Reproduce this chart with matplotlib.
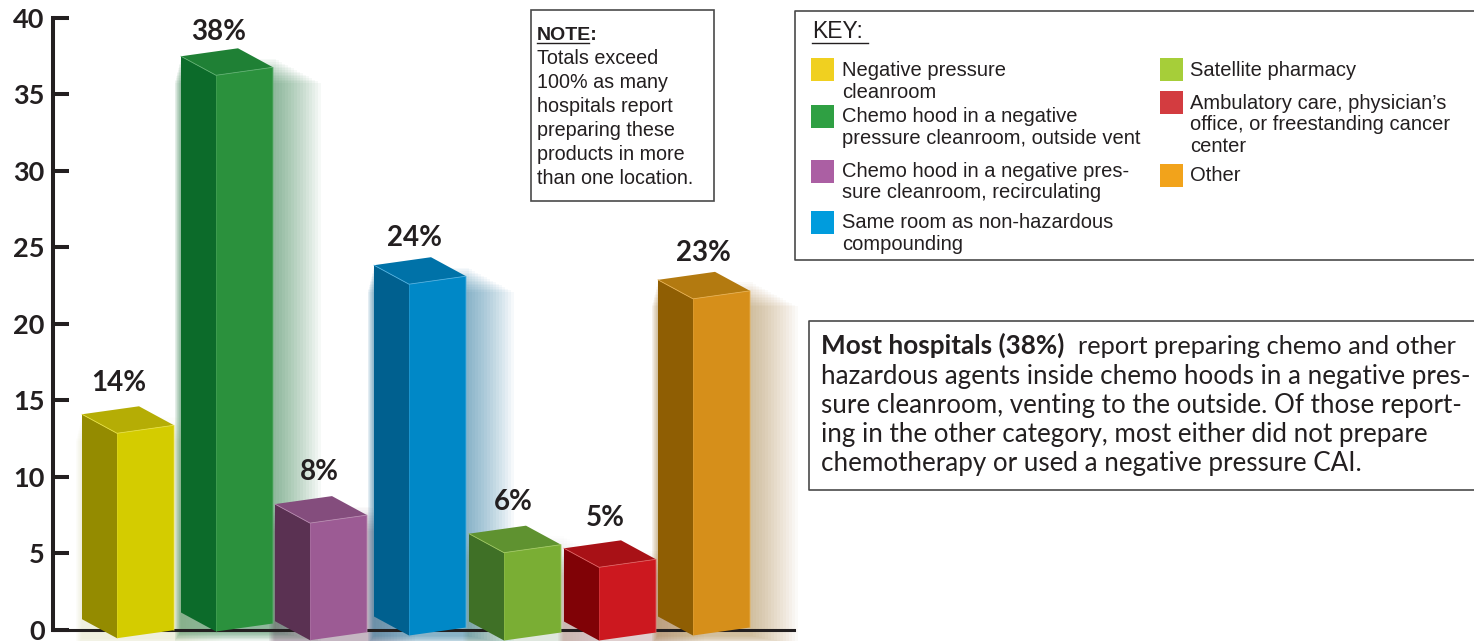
import matplotlib
matplotlib.use("Agg")
import matplotlib.pyplot as plt
from matplotlib.patches import Polygon, Rectangle

# chart data
categories = ["Negative pressure cleanroom", "Chemo hood, outside vent", "Chemo hood, recirculating",
              "Same room as non-hazardous", "Satellite pharmacy", "Ambulatory care", "Other"]
values = [14, 38, 8, 24, 6, 5, 23]
y_ticks = [0, 5, 10, 15, 20, 25, 30, 35, 40]

# bar styling
front_colors = ["#d4cc00", "#2b913d", "#9c5b94", "#0088c7", "#7aae34", "#cc181f", "#d68f1a"]
side_colors = ["#948b00", "#0c6b2a", "#5a3152", "#00608f", "#3f7026", "#800206", "#8f5e03"]
top_colors = ["#b5ad05", "#1f8035", "#844d7d", "#0072a8", "#5f9230", "#a81116", "#b37a10"]
edge_colors = ["#e6df40", "#5fb070", "#b88ab0", "#50b0e0", "#a0c860", "#e06060", "#e8b050"]
glow_strength = [0.008, 0.034, 0.022, 0.034, 0.008, 0.010, 0.028]
x_nudge = [0, 3, 1, 4, 3, 2, 0]      # px
base_drop = [8.7, 2, 10.7, 6, 11, 11, 6]   # px below the zero line
label_gap = [23, 16, 24, 19, 24, 22, 19]   # px above the back corner
label_shift = [2, 3, 9, 6, 9, 6, 10]       # px right of the front corner

# key and text boxes
key_left = [("#f0d020", 58, 76, ["Negative pressure", "cleanroom"]),
            ("#2fa043", 105, 122, ["Chemo hood in a negative", "pressure cleanroom, outside vent"]),
            ("#ab5fa3", 160, 177, ["Chemo hood in a negative pres-", "sure cleanroom, recirculating"]),
            ("#009cdd", 211, 228, ["Same room as non-hazardous", "compounding"])]
key_right = [("#a6ce39", 58, 76, ["Satellite pharmacy"]),
             ("#d33c40", 91, 109, ["Ambulatory care, physician\u2019s", "office, or freestanding cancer", "center"]),
             ("#f2a31b", 164, 181, ["Other"])]
note_lines = ["Totals exceed", "100% as many", "hospitals report", "preparing these",
              "products in more", "than one location."]
para_lines = ["hazardous agents inside chemo hoods in a negative pres-",
              "sure cleanroom, venting to the outside. Of those report-",
              "ing in the other category, most either did not prepare",
              "chemotherapy or used a negative pressure CAI."]

W, H = 1474, 641
INK = "#231f20"
NARROW = "Liberation Sans"
HUMAN = "Lato"

fig = plt.figure(figsize=(W / 100, H / 100), dpi=100, facecolor="white")

# y=0 sits at px 629.5, y=40 at px 17.7, one category step is 96 px
left, right, y0, y40 = 53, 794, 629.5, 17.7
ax = fig.add_axes([left / W, 1 - y0 / H, (right - left) / W, (y0 - y40) / H])
ax.set_ylim(0, 40)
ax.set_xlim(-(117 - left) / 96, (right - 117) / 96)
px_x = 1 / 96
px_y = 40 / (y0 - y40)

bar_w = 57 * px_x
tilt = 8 * px_y
depth_x = 35 * px_x
depth_y = 19 * px_y

# Drawn height is a bit shorter than the axis scale, the chart is a 3D picture
height_scale = 0.957

for i, v in enumerate(values):
    x = i + x_nudge[i] * px_x
    b = -base_drop[i] * px_y
    h = v * height_scale

    # soft coloured glow, stacked see-through layers
    for k in range(1, 17):
        gx0 = x - depth_x - k * 0.4 * px_x
        gx1 = x + bar_w + k * 3.0 * px_x
        gy0 = b - k * 0.6 * px_y
        gy1 = b + h + tilt + (10 - k * 1.6) * px_y
        ax.add_patch(Rectangle((gx0, gy0), gx1 - gx0, gy1 - gy0, facecolor=side_colors[i],
                               edgecolor="none", alpha=glow_strength[i], zorder=1, clip_on=False))

    side = [(x, b), (x - depth_x, b + depth_y), (x - depth_x, b + depth_y + h), (x, b + h)]
    front = [(x, b), (x + bar_w, b + tilt), (x + bar_w, b + tilt + h), (x, b + h)]
    top = [(x, b + h), (x + bar_w, b + h + tilt), (x + bar_w - depth_x, b + h + tilt + depth_y),
           (x - depth_x, b + h + depth_y)]
    ax.add_patch(Polygon(side, facecolor=side_colors[i], edgecolor="none", zorder=4, clip_on=False))
    ax.add_patch(Polygon(front, facecolor=front_colors[i], edgecolor="none", zorder=4, clip_on=False))
    ax.add_patch(Polygon(top, facecolor=top_colors[i], edgecolor="none", zorder=4, clip_on=False))
    # thin light edges
    ax.plot([x - depth_x, x, x + bar_w, x + bar_w], [b + h + depth_y, b + h, b + h + tilt, b + tilt],
            color=edge_colors[i], lw=0.6, zorder=5, clip_on=False)
    ax.plot([x, x], [b, b + h], color=edge_colors[i], lw=0.4, alpha=0.6, zorder=5, clip_on=False)

    # value label
    ax.annotate(f"{v}%", (x, b + h + tilt + depth_y), xytext=(label_shift[i], label_gap[i]),
                textcoords="offset pixels", ha="center", va="center", fontsize=20, fontweight="bold",
                family=HUMAN, color=INK, zorder=6, annotation_clip=False)

# axes
for s in ["top", "right"]:
    ax.spines[s].set_visible(False)
ax.spines["left"].set_linewidth(2.9)
ax.spines["left"].set_color(INK)
ax.spines["bottom"].set_linewidth(2.2)
ax.spines["bottom"].set_color(INK)
ax.spines["bottom"].set_zorder(3)
ax.set_xticks([])
ax.set_yticks(y_ticks)
ax.tick_params(axis="y", direction="in", length=11.5, width=2.9, color=INK, pad=6)
for t in ax.get_yticklabels():
    t.set_fontsize(19.5)
    t.set_fontweight("bold")
    t.set_family(HUMAN)
    t.set_color(INK)
ax.patch.set_visible(False)

# overlay in pixel units for the boxes
ov = fig.add_axes([0, 0, 1, 1], zorder=10)
ov.set_xlim(0, W)
ov.set_ylim(H, 0)
ov.axis("off")
ov.patch.set_visible(False)

BOX = "#4a4a4a"


def open_box(x0, y0_, y1):
    # box that runs off the right edge of the picture
    ov.plot([W + 5, x0, x0, W + 5], [y0_, y0_, y1, y1], color=BOX, lw=1.2, clip_on=True)


# note box
ov.add_patch(Rectangle((531, 10), 183, 191, facecolor="white", edgecolor=BOX, lw=1.2))
ov.text(537, 40, "NOTE:", fontsize=14, fontweight="bold", family=NARROW, color=INK)
ov.plot([537, 589], [43, 43], color=INK, lw=1)
for n, line in enumerate(note_lines):
    ov.text(537, 64 + n * 24.1, line, fontsize=14.2, family=NARROW, color=INK)

# key box
open_box(795, 11, 260)
ov.text(812, 38, "KEY:", fontsize=16.5, family=NARROW, color=INK)
ov.plot([812, 868], [43, 43], color=INK, lw=1)
for x_sw, x_txt, entries in [(811, 842, key_left), (1160, 1190, key_right)]:
    for color, sw_top, base, lines in entries:
        ov.add_patch(Rectangle((x_sw, sw_top), 23, 23, facecolor=color, edgecolor="none"))
        for n, line in enumerate(lines):
            ov.text(x_txt, base + n * 21.5, line, fontsize=14.5, family=NARROW, color=INK)

# text box
open_box(809, 321, 490)
ov.text(821, 354, "Most hospitals (38%)", fontsize=18.8, fontweight="bold", family=HUMAN, color=INK)
ov.text(1078, 354, "report preparing chemo and other", fontsize=18.3, family=HUMAN, color=INK)
for n, line in enumerate(para_lines):
    ov.text(821, 384 + n * 29, line, fontsize=18.7, family=HUMAN, color=INK)

fig.savefig("out.png", dpi=100)
